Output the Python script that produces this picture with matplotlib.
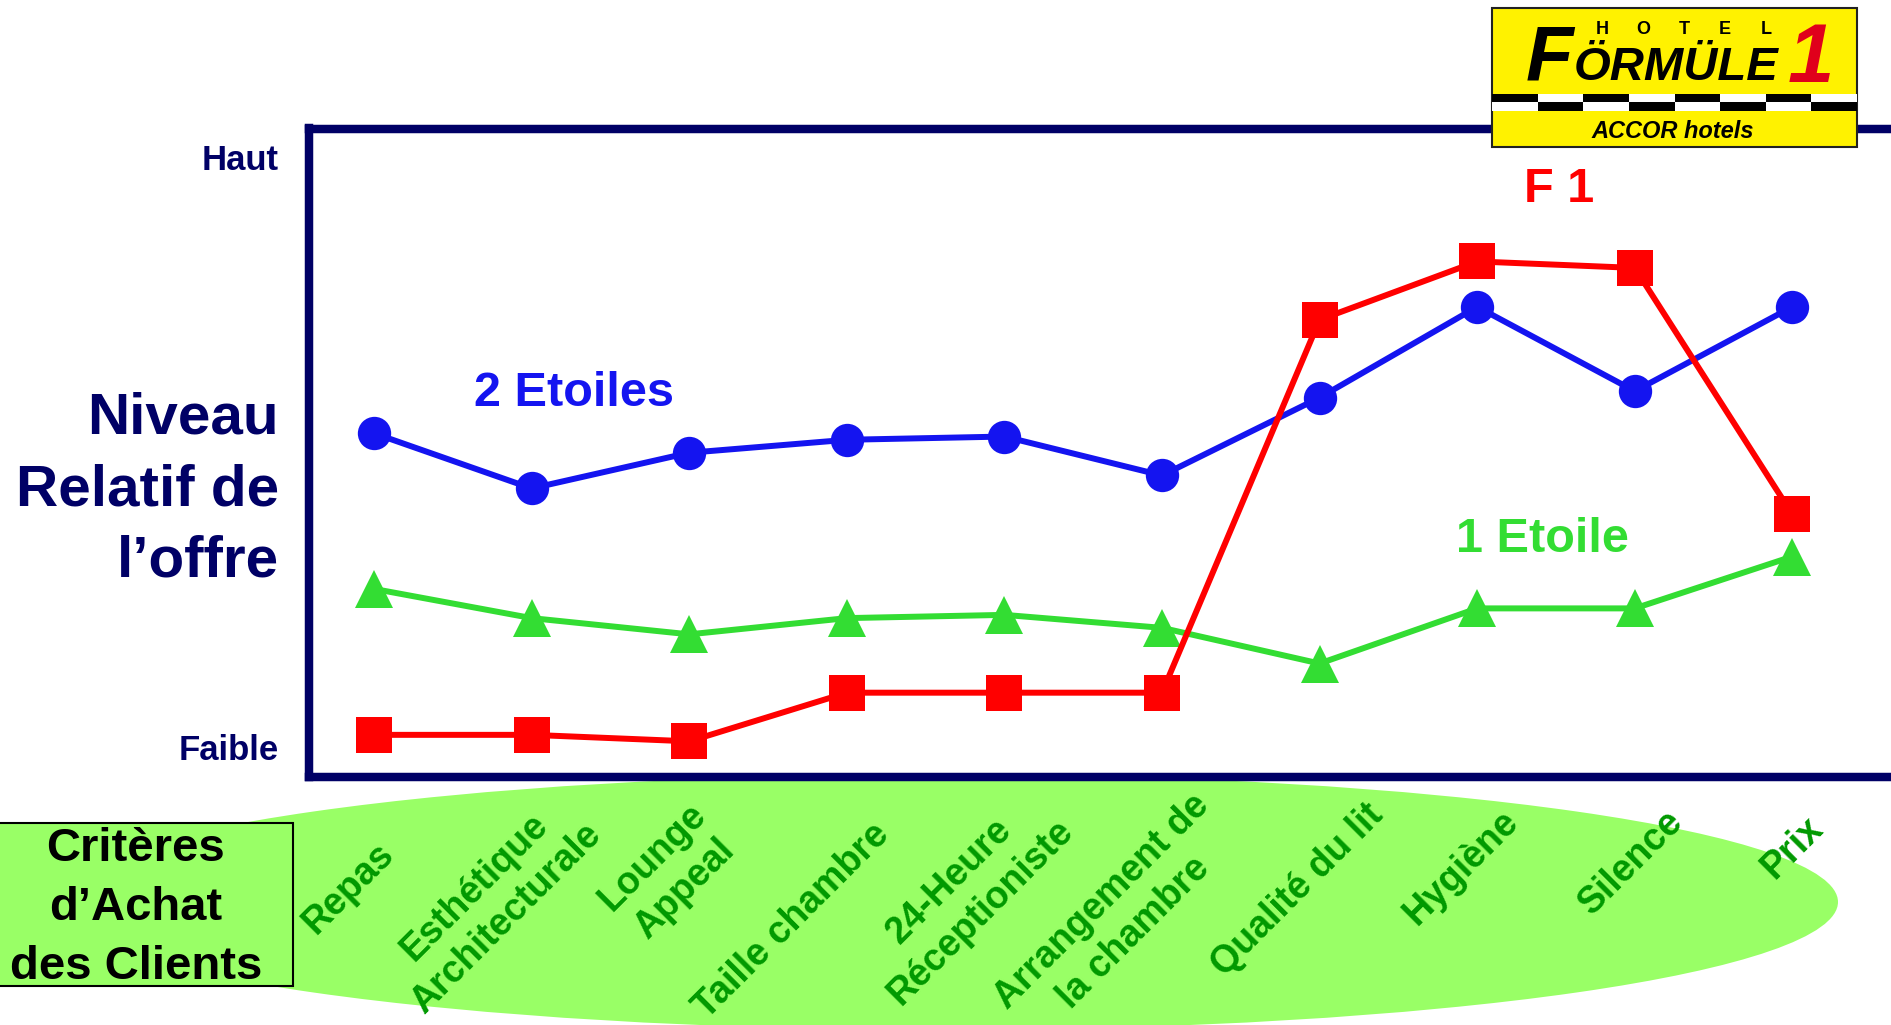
import matplotlib.pyplot as plt
from matplotlib.patches import Ellipse, Rectangle
from matplotlib.transforms import blended_transform_factory

plt.rcParams['font.family'] = ['Liberation Sans', 'DejaVu Sans']
plt.rcParams['font.weight'] = 'bold'

# data
criteres = ['Repas', 'Esthétique\nArchitecturale', 'Lounge\nAppeal', 'Taille chambre',
            '24-Heure\nRéceptioniste', 'Arrangement de\nla chambre', 'Qualité du lit',
            'Hygiène', 'Silence', 'Prix']
deux_etoiles = [5.3, 4.45, 5.0, 5.2, 5.25, 4.65, 5.85, 7.25, 5.95, 7.25]
une_etoile = [2.9, 2.45, 2.2, 2.45, 2.5, 2.3, 1.75, 2.6, 2.6, 3.4]
formule1 = [0.65, 0.65, 0.55, 1.3, 1.3, 1.3, 7.05, 7.95, 7.85, 4.05]

# layout of the slanted labels (offset from the point, centre height in px)
label_dx = [-0.165, -0.26, -0.13, -0.35, -0.25, -0.28, -0.14, -0.1, -0.02, 0.0]
label_y = [888, 903, 873, 921, 897, 917, 890, 868, 863, 848]

W, H = 1891, 1025
NAVY = '#000066'
BLUE = '#1414F0'
RED = '#FF0000'
GREEN = '#33DD33'
DARKGREEN = '#009900'
PALE = '#99FF66'


def fx(px):
    return px / W


def fy(py):
    return 1 - py / H


fig = plt.figure(figsize=(W / 100, H / 100), dpi=100)

# green ellipse behind the criteria
fig.add_artist(Ellipse((fx(945), fy(902)), 1786 / W, 256 / H, facecolor=PALE,
                       edgecolor='none', transform=fig.transFigure, zorder=-1))

ax = fig.add_axes([fx(308.5), fy(777), 1 - fx(308.5), (777 - 128.5) / H])
ax.set_facecolor('none')
x = list(range(len(criteres)))
ax.plot(x, une_etoile, color=GREEN, lw=4.3, marker='^', ms=28, mew=0, clip_on=False)
ax.plot(x, deux_etoiles, color=BLUE, lw=4.3, marker='o', ms=24, mew=0, clip_on=False)
ax.plot(x, formule1, color=RED, lw=4.3, marker='s', ms=26, mew=0, clip_on=False)
ax.set_xlim(-0.416, 9.626)
ax.set_ylim(0, 10)
ax.set_xticks([])
ax.set_yticks([])
for side in ['left', 'top', 'bottom']:
    ax.spines[side].set_color(NAVY)
    ax.spines[side].set_linewidth(6.1)
ax.spines['right'].set_visible(False)

# series names
fig.text(fx(574), fy(393), '2 Etoiles', color=BLUE, fontsize=35, ha='center', va='center')
fig.text(fx(1559), fy(190), 'F 1', color=RED, fontsize=35, ha='center', va='center')
fig.text(fx(1542), fy(539), '1 Etoile', color=GREEN, fontsize=35, ha='center', va='center')

# y side
fig.text(fx(279), fy(161), 'Haut', color=NAVY, fontsize=25, ha='right', va='center')
fig.text(fx(279), fy(751), 'Faible', color=NAVY, fontsize=25, ha='right', va='center')
fig.text(fx(279), fy(490), 'Niveau\nRelatif de\nl\u2019offre', color=NAVY, fontsize=42,
         ha='right', va='center', multialignment='right', linespacing=1.41)

# criteria labels
trans = blended_transform_factory(ax.transData, fig.transFigure)
for i, lab in enumerate(criteres):
    fig.text(i + label_dx[i], fy(label_y[i]), lab, transform=trans, color=DARKGREEN,
             fontsize=27, rotation=45, rotation_mode='anchor', ha='center', va='center',
             multialignment='center', linespacing=1.3)

# criteria box
fig.add_artist(Rectangle((fx(-2), fy(986)), 295 / W, (986 - 823) / H, facecolor=PALE,
                         edgecolor='black', lw=1.5, transform=fig.transFigure))
fig.text(fx(136), fy(908), 'Critères\nd\u2019Achat\ndes Clients', color='black', fontsize=34,
         ha='center', va='center', multialignment='center', linespacing=1.43)

# Formule 1 logo
fig.add_artist(Rectangle((fx(1492), fy(147)), 365 / W, 139 / H, facecolor='#FFF200',
                         edgecolor='#222222', lw=1.5, transform=fig.transFigure, zorder=5))
cw = 365 / 8
for k in range(8):
    for row, y0 in enumerate([102, 110.5]):
        c = 'black' if (k + row) % 2 == 0 else 'white'
        fig.add_artist(Rectangle((fx(1492 + k * cw), fy(y0)), cw / W, 8.5 / H, facecolor=c,
                                 edgecolor='none', transform=fig.transFigure, zorder=6))
for k, ch in enumerate('HOTEL'):
    fig.text(fx(1602 + k * 41), fy(29), ch, fontsize=13, color='black', ha='center',
             va='center', zorder=7)
fig.text(fx(1526), fy(80), 'F', fontsize=56, style='italic', color='black', ha='left',
         va='baseline', zorder=7)
fig.text(fx(1574), fy(80), '\u00d6RM\u00dcLE', fontsize=34, style='italic', color='black',
         ha='left', va='baseline', zorder=7)
fig.text(fx(1788), fy(82), '1', fontsize=60, style='italic', color='#E0001B', ha='left',
         va='baseline', zorder=7)
fig.text(fx(1673), fy(132), 'ACCOR hotels', fontsize=17, style='italic', color='black',
         ha='center', va='center', zorder=7)

fig.savefig('out.png', dpi=100)
